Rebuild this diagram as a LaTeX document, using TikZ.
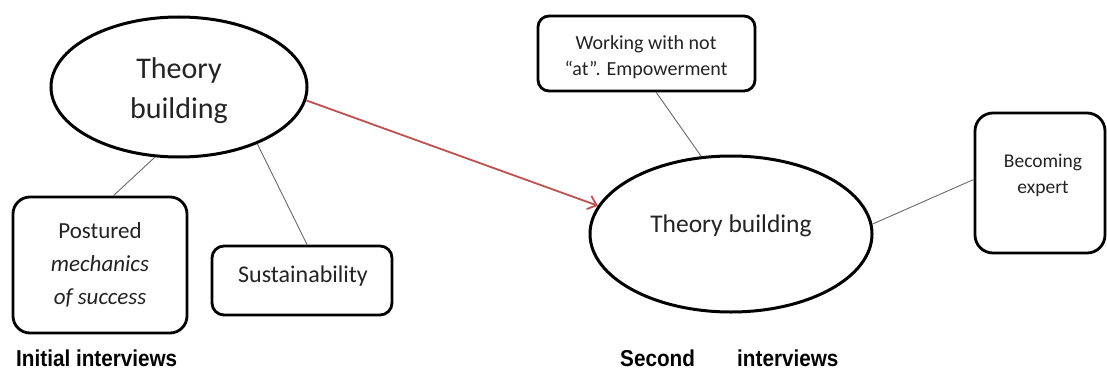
\documentclass[tikz,border=0pt]{standalone}
\usepackage{fontspec}
\setmainfont{Carlito}
\newfontfamily\capfont{Liberation Sans}[FakeStretch=0.9]
\usetikzlibrary{shapes.geometric,arrows.meta}
\definecolor{inkgray}{RGB}{35,35,35}
\definecolor{linkgray}{RGB}{105,105,105}
\definecolor{arrowred}{RGB}{192,80,77}
\tikzset{
  bubble/.style={ellipse, draw=black, line width=3pt, inner sep=0pt},
  card/.style={rectangle, draw=black, line width=2.8pt, inner sep=0pt},
  words/.style={text=inkgray, align=center, inner sep=0pt},
  link/.style={draw=linkgray, line width=0.9pt},
  flow/.style={draw=arrowred, line width=1.8pt, -{Straight Barb[length=8pt,width=14pt]}},
  caption/.style={font=\capfont\bfseries\fontsize{23}{26}\selectfont, text=black, inner sep=0pt, anchor=base west}
}
\begin{document}
\begin{tikzpicture}[x=1pt,y=-1pt]
  \useasboundingbox (0,0) rectangle (1107,369);

  % first round of interviews
  \node[bubble, minimum width=256pt, minimum height=140pt] (first) at (179,87) {};
  \node[words, font=\fontsize{30}{40}\selectfont] (firstT) at (179,91) {Theory\\building};
  \node[card, rounded corners=17pt, minimum width=174pt, minimum height=136pt] (post) at (100,265) {};
  \node[words, font=\fontsize{23}{33}\selectfont] (postT) at (100,265) {Postured\\\textit{mechanics}\\\textit{of success}};
  \node[card, rounded corners=12pt, minimum width=180pt, minimum height=69pt] (sust) at (302,280.5) {};
  \node[words, font=\fontsize{24}{28}\selectfont] (sustT) at (303,276) {Sustainability};

  % second round of interviews
  \node[bubble, minimum width=282pt, minimum height=156pt] (second) at (731,234) {};
  \node[words, font=\fontsize{25.5}{30}\selectfont] (secondT) at (731,226) {Theory building};
  \node[card, rounded corners=11pt, minimum width=217pt, minimum height=75pt] (work) at (646.5,53.5) {};
  \node[words, font=\fontsize{20}{26}\selectfont] (workT) at (646,57) {Working with not\\“at”. Empowerment};
  \node[card, rounded corners=18pt, minimum width=130pt, minimum height=140pt] (expert) at (1040,183) {};
  \node[words, font=\fontsize{19.5}{26}\selectfont] (expertT) at (1043,175) {Becoming\\expert};

  % connectors
  \draw[link] (first.251) -- (post.79);
  \draw[link] (first.-36.5) -- (sust.82);
  \draw[link] (work.-76) -- (second.111);
  \draw[link] (second.4.5) -- (expert.177);
  \draw[flow] (first.-6) -- (second.168);

  % captions
  \node[caption] (capA) at (16,366) {Initial interviews};
  \node[caption] (capB) at (620,366) {Second};
  \node[caption] (capC) at (737,366) {interviews};
\end{tikzpicture}
\end{document}
